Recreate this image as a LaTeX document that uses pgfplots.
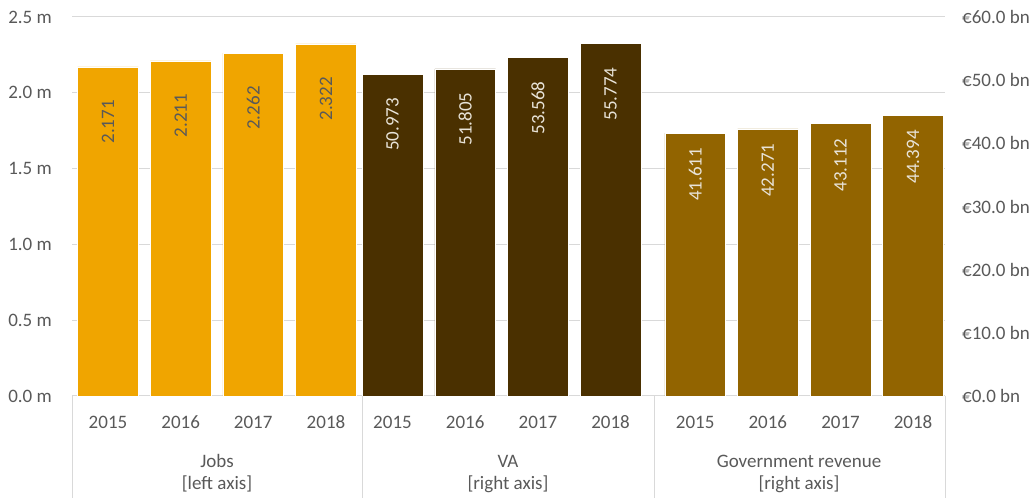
\documentclass[border=0pt]{standalone}
\usepackage{pgfplots}
\pgfplotsset{compat=1.18}
\usepackage{fontspec}
\setmainfont{Carlito}
\definecolor{jobs}{HTML}{F0A500}
\definecolor{va}{HTML}{4A3000}
\definecolor{gov}{HTML}{926400}
\definecolor{txt}{HTML}{595959}
\definecolor{gridc}{HTML}{D9D9D9}
\definecolor{lighttxt}{HTML}{E8E3D8}
\begin{document}
\fontsize{19bp}{23bp}\selectfont
\begin{tikzpicture}
\path[use as bounding box] (0,0) rectangle (1032bp,498bp);
\begin{axis}[
  at={(72bp,102bp)}, anchor=south west,
  scale only axis, width=873bp, height=379bp,
  xmin=72, xmax=945, ymin=0, ymax=2.5,
  axis lines*=left,
  axis line style={draw=none},
  major tick length=0pt,
  ytick={0,0.5,1,1.5,2,2.5},
  ymajorgrids, grid style={gridc, line width=1bp},
  xtick={108,180.7,253.2,326,392.5,465.2,537.9,610.5,695.2,767.8,840.5,913},
  xticklabels={2015,2016,2017,2018,2015,2016,2017,2018,2015,2016,2017,2018},
  xticklabel style={anchor=base, yshift=-32.3bp, text=txt, inner sep=0pt},
  /pgf/number format/assume math mode=true,
  yticklabel={\pgfmathprintnumber[fixed,fixed zerofill,precision=1]{\tick}~m},
  yticklabel style={anchor=east, inner sep=0pt, xshift=-20bp, text=txt},
  ybar,
]
\addplot[fill=jobs, draw=white, line width=0.5bp, bar shift=0pt, bar width=60.6,
  nodes near coords={\pgfmathprintnumber[fixed,fixed zerofill,precision=3]{\pgfplotspointmeta}},
  every node near coord/.append style={rotate=90, anchor=east, inner xsep=33bp, inner ysep=0pt, text=txt}]
  coordinates {(108,2.171) (180.7,2.211) (253.2,2.262) (326,2.322)};
\end{axis}
\begin{axis}[
  at={(72bp,102bp)}, anchor=south west,
  scale only axis, width=873bp, height=379bp,
  xmin=72, xmax=945, ymin=0, ymax=60,
  axis x line=none,
  axis y line*=right,
  axis line style={draw=none},
  major tick length=0pt,
  ytick={0,10,20,30,40,50,60},
  /pgf/number format/assume math mode=true,
  yticklabel={€\pgfmathprintnumber[fixed,fixed zerofill,precision=1]{\tick}~bn},
  yticklabel style={anchor=west, inner sep=0pt, xshift=17bp, text=txt},
  ybar,
]
\addplot[fill=va, draw=white, line width=0.5bp, bar shift=0pt, bar width=60.6,
  nodes near coords={\pgfmathprintnumber[fixed,fixed zerofill,precision=3]{\pgfplotspointmeta}},
  every node near coord/.append style={rotate=90, anchor=east, inner xsep=23.5bp, inner ysep=0pt, text=lighttxt}]
  coordinates {(392.5,50.973) (465.2,51.805) (537.9,53.568) (610.5,55.774)};
\addplot[fill=gov, draw=white, line width=0.5bp, bar shift=0pt, bar width=60.6,
  nodes near coords={\pgfmathprintnumber[fixed,fixed zerofill,precision=3]{\pgfplotspointmeta}},
  every node near coord/.append style={rotate=90, anchor=east, inner xsep=14.5bp, inner ysep=0pt, text=lighttxt}]
  coordinates {(695.2,41.611) (767.8,42.271) (840.5,43.112) (913,44.394)};
\end{axis}
\draw[gridc, line width=1bp] (72bp,0) -- (72bp,102bp)
  (362bp,0) -- (362bp,102bp)
  (654.5bp,0) -- (654.5bp,102bp)
  (945bp,0) -- (945bp,102bp);
\node[anchor=base, text=txt, inner sep=0pt] at (217bp,31bp) {Jobs};
\node[anchor=base, text=txt, inner sep=0pt] at (217bp,8.5bp) {[left axis]};
\node[anchor=base, text=txt, inner sep=0pt] at (508bp,31bp) {VA};
\node[anchor=base, text=txt, inner sep=0pt] at (508bp,8.5bp) {[right axis]};
\node[anchor=base, text=txt, inner sep=0pt] at (799bp,31bp) {Government revenue};
\node[anchor=base, text=txt, inner sep=0pt] at (799bp,8.5bp) {[right axis]};
\end{tikzpicture}
\end{document}
